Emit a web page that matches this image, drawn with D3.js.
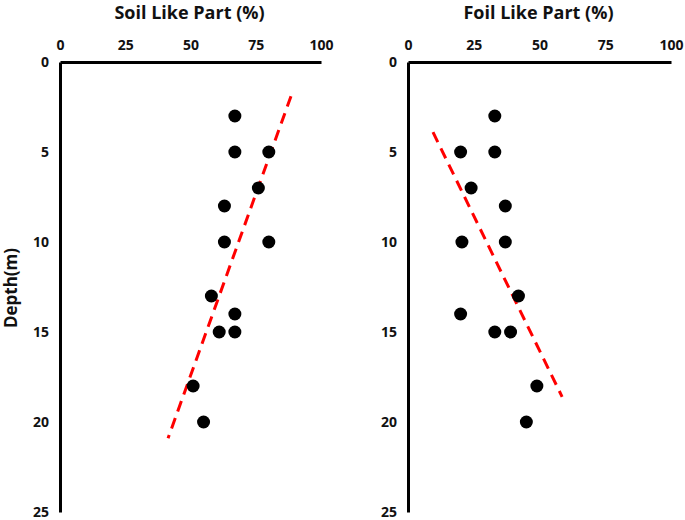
<!DOCTYPE html>
<html>
<head>
<meta charset="utf-8">
<script src="https://cdn.jsdelivr.net/npm/d3@7"></script>
<style>
  body { margin: 0; background: #fff; }
  text { font-family: "Open Sans", sans-serif; font-weight: 700; fill: #111; }
</style>
</head>
<body>
<script>
// depth (m) of every sample
var soilDepth = [3, 5, 5, 7, 8, 10, 10, 13, 14, 15, 15, 18, 20];
var soilPct   = [67, 67, 80, 76, 63, 63, 80, 58, 67, 61, 67, 51, 55];
var soilTrend = [[88.5, 1.9], [41.4, 20.9]];

var foilDepth = [3, 5, 5, 7, 8, 10, 10, 13, 14, 15, 15, 18, 20];
var foilPct   = [33, 20, 33, 24, 37, 20.5, 37, 42, 20, 33, 39, 49, 45];
var foilTrend = [[9.5, 3.9], [58.6, 18.6]];

var xTicks = [0, 25, 50, 75, 100];
var yTicks = [0, 5, 10, 15, 20, 25];

var W = 685, H = 520;
var svg = d3.select("body").append("svg")
   .attr("width", W)
   .attr("height", H);

var y = d3.scaleLinear().domain([0, 25]).range([62, 512]);

function panel(title, x0, x1, depth, pct, trend) {
  var x = d3.scaleLinear().domain([0, 100]).range([x0, x1]);
  var g = svg.append("g");

  // top axis
  var ax = g.append("g")
     .attr("transform", "translate(0," + y(0) + ")")
     .call(d3.axisTop(x).tickValues(xTicks).tickSize(0).tickPadding(12));
  ax.select(".domain").attr("stroke", "#000").attr("stroke-width", 3);
  ax.selectAll("text").style("font-size", "14px");

  // left axis
  var ay = g.append("g")
     .attr("transform", "translate(" + x(0) + ",0)")
     .call(d3.axisLeft(y).tickValues(yTicks).tickSize(0).tickPadding(11));
  ay.select(".domain").attr("stroke", "#000").attr("stroke-width", 3);
  ay.selectAll("text").style("font-size", "14px");

  g.append("text")
     .attr("x", (x0 + x1) / 2 - 1)
     .attr("y", 19)
     .attr("text-anchor", "middle")
     .style("font-size", "18px")
     .text(title);

  g.append("line")
     .attr("x1", x(trend[0][0])).attr("y1", y(trend[0][1]))
     .attr("x2", x(trend[1][0])).attr("y2", y(trend[1][1]))
     .attr("stroke", "#f00")
     .attr("stroke-width", 3)
     .attr("stroke-dasharray", "11,7");

  g.selectAll("circle")
     .data(depth)
     .enter().append("circle")
     .attr("cx", function(d, i) { return x(pct[i]); })
     .attr("cy", function(d) { return y(d); })
     .attr("r", 6.5)
     .attr("fill", "#000");
}

panel("Soil Like Part (%)", 60, 321, soilDepth, soilPct, soilTrend);
panel("Foil Like Part (%)", 408, 671, foilDepth, foilPct, foilTrend);

svg.append("text")
   .attr("transform", "translate(17,288) rotate(-90)")
   .attr("text-anchor", "middle")
   .style("font-size", "17px")
   .text("Depth(m)");
</script>
</body>
</html>
